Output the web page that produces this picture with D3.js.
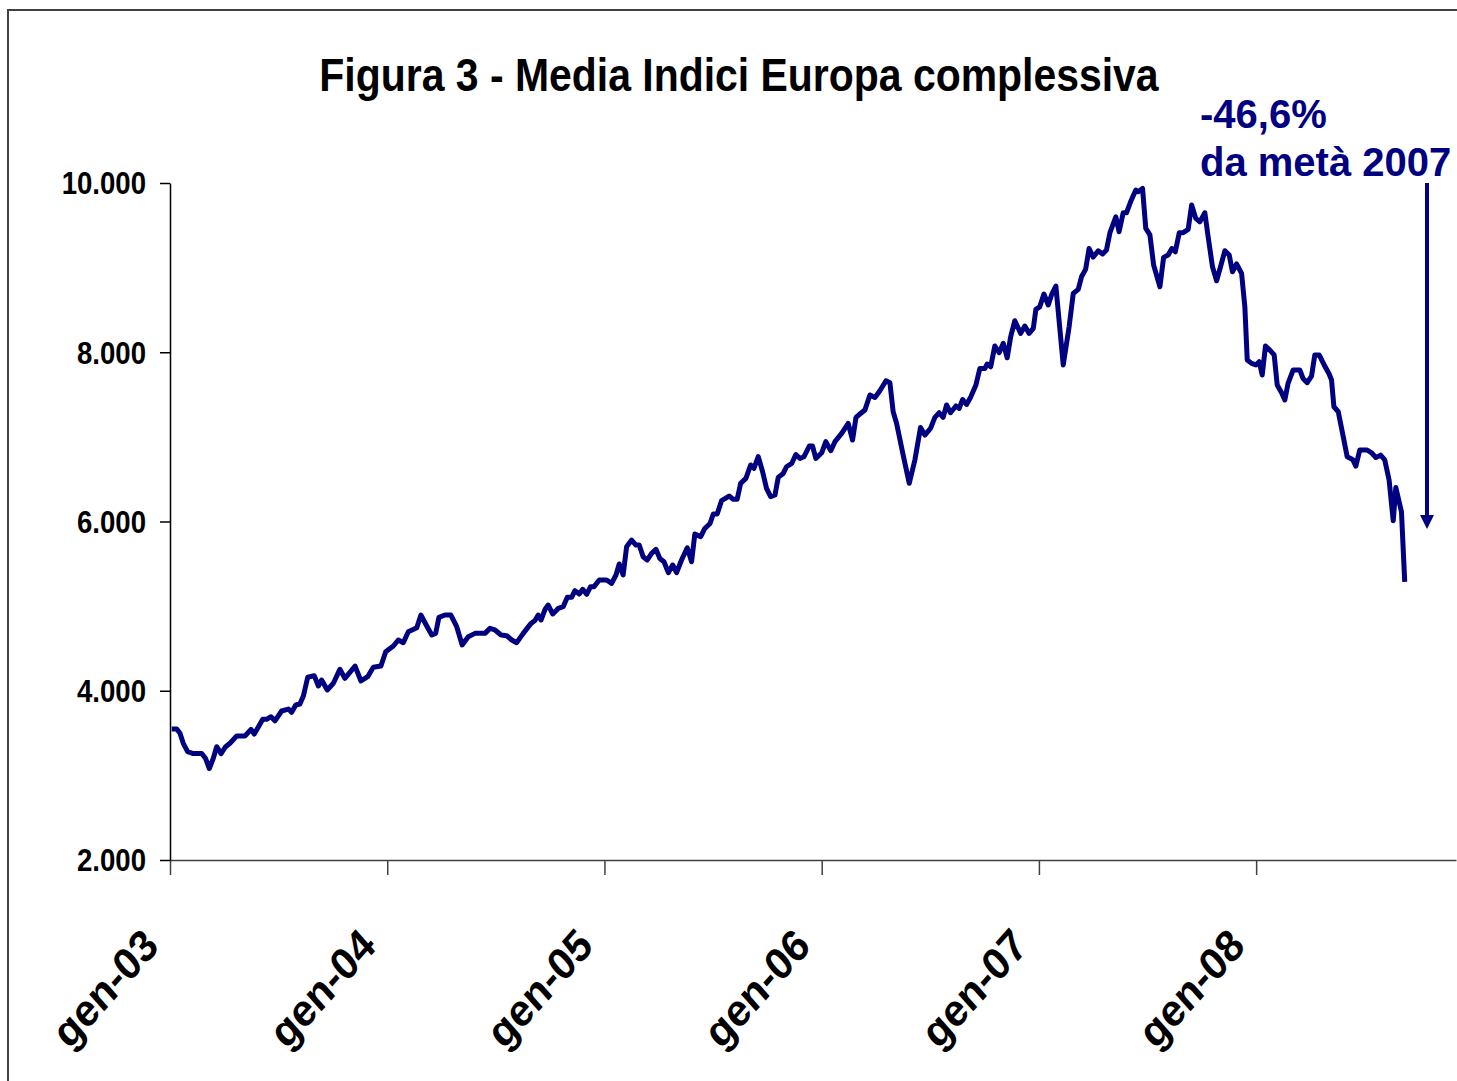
<!DOCTYPE html>
<html>
<head>
<meta charset="utf-8">
<script src="https://cdn.jsdelivr.net/npm/d3@7"></script>
<style>
  body { margin: 0; background: #fff; }
  text { font-family: "Liberation Sans", Arial, sans-serif; font-weight: bold; }
</style>
</head>
<body>
<div id="chart"></div>
<script>
// date espresse in anni decimali (settimanali circa)
var dates = [
  2003.008, 2003.031, 2003.046, 2003.061, 2003.081, 2003.107, 2003.146, 2003.164, 2003.181, 2003.199,
  2003.215, 2003.235, 2003.256, 2003.276, 2003.307, 2003.345, 2003.373, 2003.388, 2003.427, 2003.445,
  2003.465, 2003.483, 2003.514, 2003.545, 2003.560, 2003.579, 2003.598, 2003.614, 2003.634, 2003.664,
  2003.683, 2003.698, 2003.724, 2003.752, 2003.782, 2003.805, 2003.852, 2003.879, 2003.910, 2003.936,
  2003.971, 2003.993, 2004.028, 2004.051, 2004.074, 2004.097, 2004.136, 2004.155, 2004.182, 2004.205,
  2004.223, 2004.238, 2004.266, 2004.293, 2004.320, 2004.345, 2004.373, 2004.404, 2004.450, 2004.473,
  2004.496, 2004.524, 2004.550, 2004.573, 2004.596, 2004.626, 2004.662, 2004.680, 2004.695, 2004.708,
  2004.726, 2004.741, 2004.762, 2004.787, 2004.810, 2004.829, 2004.849, 2004.864, 2004.884, 2004.900,
  2004.918, 2004.936, 2004.952, 2004.976, 2005.010, 2005.033, 2005.053, 2005.068, 2005.086, 2005.102,
  2005.125, 2005.145, 2005.160, 2005.178, 2005.197, 2005.217, 2005.237, 2005.255, 2005.274, 2005.294,
  2005.314, 2005.332, 2005.355, 2005.381, 2005.401, 2005.416, 2005.443, 2005.462, 2005.486, 2005.501,
  2005.519, 2005.539, 2005.574, 2005.593, 2005.611, 2005.627, 2005.651, 2005.673, 2005.688, 2005.708,
  2005.728, 2005.746, 2005.765, 2005.785, 2005.800, 2005.823, 2005.838, 2005.862, 2005.881, 2005.900,
  2005.918, 2005.943, 2005.958, 2005.973, 2006.000, 2006.019, 2006.042, 2006.061, 2006.092, 2006.122,
  2006.142, 2006.158, 2006.176, 2006.199, 2006.222, 2006.245, 2006.268, 2006.296, 2006.314, 2006.329,
  2006.345, 2006.375, 2006.403, 2006.429, 2006.455, 2006.475, 2006.501, 2006.521, 2006.541, 2006.559,
  2006.575, 2006.593, 2006.618, 2006.633, 2006.649, 2006.667, 2006.685, 2006.710, 2006.728, 2006.751,
  2006.762, 2006.778, 2006.797, 2006.817, 2006.836, 2006.854, 2006.870, 2006.889, 2006.916, 2006.935,
  2006.955, 2006.974, 2006.986, 2007.004, 2007.023, 2007.043, 2007.058, 2007.078, 2007.112, 2007.139,
  2007.158, 2007.181, 2007.196, 2007.215, 2007.231, 2007.250, 2007.273, 2007.293, 2007.311, 2007.327,
  2007.354, 2007.369, 2007.388, 2007.403, 2007.422, 2007.446, 2007.457, 2007.477, 2007.492, 2007.511,
  2007.528, 2007.557, 2007.574, 2007.595, 2007.612, 2007.628, 2007.646, 2007.664, 2007.687, 2007.703,
  2007.722, 2007.741, 2007.764, 2007.779, 2007.799, 2007.818, 2007.836, 2007.856, 2007.876, 2007.891,
  2007.910, 2007.933, 2007.948, 2007.959, 2007.979, 2007.999, 2008.014, 2008.028, 2008.043, 2008.063,
  2008.083, 2008.097, 2008.117, 2008.132, 2008.147, 2008.170, 2008.201, 2008.216, 2008.235, 2008.255,
  2008.270, 2008.290, 2008.312, 2008.336, 2008.347, 2008.358, 2008.378, 2008.401, 2008.419, 2008.444,
  2008.459, 2008.477, 2008.511, 2008.531, 2008.551, 2008.573, 2008.592, 2008.612, 2008.631, 2008.643,
  2008.669, 2008.684
];
var values = [
  3548, 3548, 3497, 3379, 3280, 3258, 3258, 3199, 3081, 3199,
  3339, 3258, 3339, 3379, 3465, 3465, 3544, 3489, 3662, 3662,
  3693, 3645, 3761, 3784, 3745, 3832, 3843, 3938, 4159, 4178,
  4056, 4127, 4009, 4088, 4253, 4147, 4292, 4115, 4166, 4277,
  4292, 4461, 4529, 4600, 4568, 4698, 4745, 4895, 4765, 4659,
  4678, 4868, 4895, 4895, 4757, 4541, 4639, 4678, 4678, 4737,
  4718, 4659, 4650, 4600, 4568, 4678, 4796, 4830, 4895, 4836,
  4960, 5013, 4907, 4973, 4993, 5104, 5104, 5183, 5143, 5199,
  5140, 5230, 5230, 5309, 5309, 5269, 5368, 5498, 5368, 5702,
  5781, 5722, 5722, 5584, 5545, 5624, 5671, 5563, 5524, 5395,
  5486, 5395, 5545, 5690, 5524, 5852, 5820, 5918, 5977, 6089,
  6089, 6246, 6301, 6262, 6262, 6451, 6510, 6668, 6628, 6766,
  6588, 6392, 6293, 6313, 6521, 6568, 6647, 6686, 6792, 6745,
  6765, 6892, 6892, 6745, 6812, 6943, 6837, 6943, 7041, 7159,
  6963, 7231, 7270, 7318, 7495, 7466, 7545, 7663, 7640, 7297,
  7159, 6786, 6451, 6727, 7111, 7022, 7100, 7230, 7285, 7230,
  7377, 7285, 7365, 7336, 7442, 7383, 7466, 7613, 7808, 7808,
  7861, 7828, 8074, 7995, 8105, 7935, 8183, 8373, 8223, 8310,
  8223, 8281, 8506, 8537, 8688, 8558, 8677, 8783, 7850, 8301,
  8695, 8743, 8892, 8979, 9226, 9125, 9199, 9161, 9208, 9413,
  9601, 9424, 9648, 9648, 9778, 9917, 9896, 9935, 9463, 9386,
  9031, 8774, 9121, 9149, 9226, 9187, 9413, 9413, 9451, 9740,
  9582, 9542, 9648, 9365, 9010, 8845, 9010, 9199, 9149, 8951,
  9043, 8932, 8537, 7909, 7868, 7850, 7888, 7731, 8074, 8026,
  7968, 7613, 7522, 7436, 7633, 7790, 7790, 7690, 7640, 7719,
  7968, 7968, 7856, 7743, 7672, 7356, 7297, 7002, 6765, 6734,
  6655, 6845, 6845, 6812, 6757, 6784, 6727, 6490, 6009, 6402,
  6114, 5287
];
var tickYears = [2003, 2004, 2005, 2006, 2007, 2008];
var tickLabels = ["gen-03", "gen-04", "gen-05", "gen-06", "gen-07", "gen-08"];
var yTicks = [2000, 4000, 6000, 8000, 10000];
var titolo = "Figura 3 - Media Indici Europa complessiva";
var nota = ["-46,6%", "da metà 2007"];

var width = 1457, height = 1081;
var plot = {left: 170, right: 1456, top: 183, bottom: 860};
var navy = "#000080";

var it = d3.formatLocale({decimal: ",", thousands: ".", grouping: [3], currency: ["€", ""]});
var fmt = it.format(",.0f");

var svg = d3.select("#chart").append("svg")
    .attr("width", width)
    .attr("height", height);

// cornice
svg.append("rect")
    .attr("x", 8).attr("y", 10)
    .attr("width", 1470).attr("height", 1090)
    .attr("fill", "none")
    .attr("stroke", "#404040")
    .attr("stroke-width", 2);

var xScale = d3.scaleLinear()
    .domain([2003, 2008.92])
    .range([plot.left, plot.right]);
var yScale = d3.scaleLinear()
    .domain([2000, 10000])
    .range([plot.bottom, plot.top]);

// titolo
svg.append("text")
    .attr("transform", "translate(739,91) scale(0.89,1)")
    .attr("text-anchor", "middle")
    .attr("font-size", 46)
    .attr("fill", "#000")
    .text(titolo);

// asse x
var xAxis = d3.axisBottom(xScale)
    .tickValues(tickYears)
    .tickFormat(function(d, i) { return tickLabels[i]; })
    .tickSizeInner(15)
    .tickSizeOuter(0);
var gx = svg.append("g")
    .attr("transform", "translate(0," + plot.bottom + ")")
    .call(xAxis);
gx.select(".domain").attr("stroke", "#404040").attr("stroke-width", 1.5);
gx.selectAll(".tick line").attr("stroke", "#404040").attr("stroke-width", 1.5);
gx.selectAll(".tick text")
    .attr("x", 0).attr("y", 0).attr("dy", 0)
    .attr("text-anchor", "end")
    .attr("font-size", 45)
    .attr("font-family", "Liberation Sans, Arial, sans-serif")
    .attr("fill", "#000")
    .attr("transform", "translate(-10,88) scale(0.89,1) rotate(-45)");

// asse y
var yAxis = d3.axisLeft(yScale)
    .tickValues(yTicks)
    .tickFormat(fmt)
    .tickSizeInner(10)
    .tickSizeOuter(0);
var gy = svg.append("g")
    .attr("transform", "translate(" + plot.left + ",0)")
    .call(yAxis);
gy.select(".domain").attr("stroke", "#000").attr("stroke-width", 1.5);
gy.selectAll(".tick line").attr("stroke", "#000").attr("stroke-width", 1.5);
gy.selectAll(".tick text")
    .attr("x", 0).attr("dy", "0.35em")
    .attr("text-anchor", "end")
    .attr("font-size", 31)
    .attr("font-family", "Liberation Sans, Arial, sans-serif")
    .attr("fill", "#000")
    .attr("transform", "translate(-24,0) scale(0.89,1)");

// serie
var line = d3.line()
    .x(function(d, i) { return xScale(dates[i]); })
    .y(function(d) { return yScale(d); });
svg.append("path")
    .datum(values)
    .attr("d", line)
    .attr("fill", "none")
    .attr("stroke", navy)
    .attr("stroke-width", 5)
    .attr("stroke-linejoin", "round");

// nota e freccia
svg.selectAll(".nota")
    .data(nota)
    .enter()
    .append("text")
    .attr("class", "nota")
    .attr("x", 1200)
    .attr("y", function(d, i) { return 128 + i * 48; })
    .attr("font-size", 40)
    .attr("fill", navy)
    .text(function(d) { return d; });

svg.append("line")
    .attr("x1", 1427).attr("x2", 1427)
    .attr("y1", 183).attr("y2", 518)
    .attr("stroke", navy)
    .attr("stroke-width", 4);
svg.append("path")
    .attr("d", "M1420,515 L1434,515 L1427,529 Z")
    .attr("fill", navy);
</script>
</body>
</html>
